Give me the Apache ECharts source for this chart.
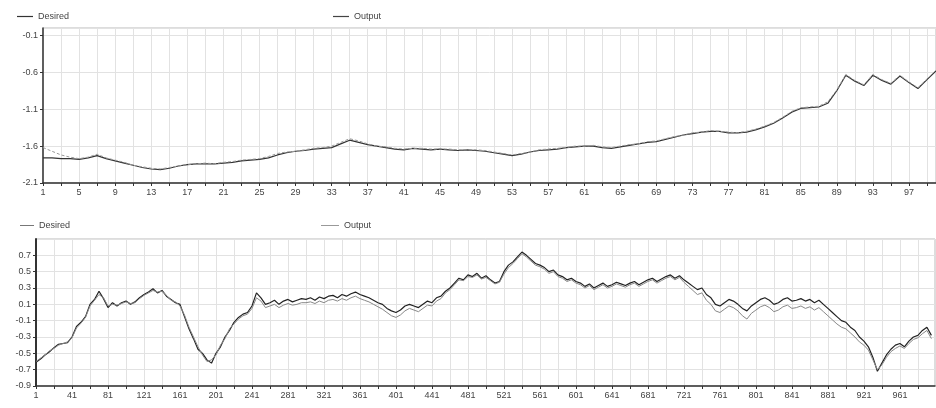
<!DOCTYPE html>
<html><head><meta charset="utf-8">
<script src="https://cdn.jsdelivr.net/npm/echarts@6/dist/echarts.min.js"></script>
<style>html,body{margin:0;padding:0;background:#fff}#c{width:936px;height:408px}</style>
</head><body><div id="c"></div>
<script>
// ---- Top chart data (100 steps) ----
const topDesired = [-1.76,-1.76,-1.77,-1.77,-1.78,-1.76,-1.73,-1.77,-1.80,-1.83,
-1.86,-1.89,-1.91,-1.92,-1.90,-1.87,-1.85,-1.84,-1.84,-1.84,
-1.83,-1.82,-1.80,-1.79,-1.78,-1.76,-1.72,-1.69,-1.67,-1.66,
-1.64,-1.63,-1.62,-1.57,-1.52,-1.55,-1.58,-1.60,-1.62,-1.64,
-1.65,-1.63,-1.64,-1.65,-1.64,-1.65,-1.66,-1.65,-1.66,-1.67,
-1.69,-1.71,-1.73,-1.71,-1.68,-1.66,-1.65,-1.64,-1.62,-1.61,
-1.60,-1.60,-1.62,-1.63,-1.61,-1.59,-1.57,-1.55,-1.54,-1.51,
-1.48,-1.45,-1.43,-1.41,-1.40,-1.40,-1.42,-1.42,-1.41,-1.38,
-1.34,-1.29,-1.22,-1.14,-1.09,-1.08,-1.07,-1.02,-0.85,-0.64,
-0.72,-0.78,-0.64,-0.71,-0.76,-0.65,-0.74,-0.82,-0.70,-0.58];
const topOutput = [-1.62,-1.67,-1.72,-1.75,-1.77,-1.75,-1.71,-1.76,-1.79,-1.82,
-1.86,-1.88,-1.90,-1.91,-1.89,-1.87,-1.85,-1.84,-1.83,-1.84,
-1.82,-1.81,-1.79,-1.78,-1.77,-1.74,-1.70,-1.68,-1.67,-1.65,
-1.63,-1.62,-1.60,-1.55,-1.50,-1.53,-1.57,-1.60,-1.61,-1.63,
-1.64,-1.63,-1.63,-1.64,-1.64,-1.64,-1.65,-1.65,-1.65,-1.66,
-1.68,-1.70,-1.72,-1.70,-1.68,-1.65,-1.64,-1.63,-1.62,-1.60,
-1.60,-1.59,-1.61,-1.62,-1.60,-1.58,-1.57,-1.54,-1.53,-1.50,
-1.47,-1.45,-1.42,-1.41,-1.39,-1.40,-1.41,-1.42,-1.40,-1.37,
-1.33,-1.28,-1.21,-1.13,-1.08,-1.07,-1.06,-1.00,-0.84,-0.63,
-0.71,-0.77,-0.63,-0.70,-0.75,-0.64,-0.73,-0.81,-0.69,-0.57];

// ---- Bottom chart data (1000 steps, sampled every 5th step) ----
const botStep = 5;
const botDesired = [
-0.61,-0.57,-0.52,-0.48,-0.43,-0.39,-0.38,-0.37,-0.30,-0.17,
-0.12,-0.05,0.10,0.16,0.26,0.17,0.06,0.12,0.08,0.12,
0.14,0.10,0.13,0.18,0.22,0.25,0.29,0.24,0.27,0.20,
0.16,0.12,0.10,-0.05,-0.20,-0.32,-0.45,-0.50,-0.58,-0.62,
-0.50,-0.42,-0.30,-0.22,-0.12,-0.06,-0.02,0.00,0.08,0.24,
0.18,0.10,0.12,0.15,0.10,0.14,0.16,0.13,0.15,0.17,
0.16,0.18,0.15,0.19,0.17,0.20,0.21,0.18,0.22,0.20,
0.23,0.25,0.22,0.20,0.18,0.15,0.12,0.10,0.05,0.02,
0.00,0.03,0.08,0.10,0.08,0.06,0.10,0.14,0.12,0.18,
0.20,0.26,0.30,0.36,0.42,0.40,0.46,0.44,0.48,0.42,
0.45,0.40,0.36,0.38,0.50,0.58,0.62,0.68,0.74,0.70,
0.65,0.60,0.58,0.55,0.50,0.52,0.46,0.44,0.40,0.42,
0.38,0.36,0.32,0.35,0.30,0.33,0.36,0.32,0.34,0.37,
0.35,0.33,0.36,0.38,0.34,0.37,0.40,0.42,0.38,0.41,
0.44,0.46,0.42,0.45,0.40,0.36,0.32,0.28,0.30,0.22,
0.18,0.10,0.08,0.12,0.16,0.14,0.10,0.05,0.02,0.08,
0.12,0.16,0.18,0.15,0.10,0.12,0.16,0.18,0.14,0.15,
0.17,0.14,0.16,0.12,0.15,0.10,0.05,0.00,-0.05,-0.10,
-0.12,-0.18,-0.22,-0.30,-0.35,-0.42,-0.55,-0.72,-0.62,-0.52,
-0.45,-0.40,-0.38,-0.42,-0.35,-0.30,-0.28,-0.22,-0.18,-0.28];
const botOutput = [
-0.60,-0.56,-0.52,-0.47,-0.44,-0.40,-0.38,-0.36,-0.31,-0.19,
-0.13,-0.06,0.08,0.15,0.22,0.18,0.08,0.10,0.09,0.11,
0.13,0.11,0.12,0.17,0.21,0.24,0.27,0.25,0.26,0.21,
0.15,0.13,0.08,-0.03,-0.18,-0.30,-0.42,-0.52,-0.60,-0.58,
-0.52,-0.40,-0.32,-0.20,-0.14,-0.08,-0.04,-0.02,0.05,0.18,
0.14,0.06,0.08,0.10,0.06,0.09,0.11,0.09,0.10,0.12,
0.12,0.13,0.11,0.14,0.12,0.15,0.16,0.14,0.17,0.15,
0.18,0.20,0.17,0.15,0.13,0.10,0.07,0.04,0.00,-0.04,
-0.06,-0.03,0.02,0.05,0.03,0.01,0.05,0.09,0.08,0.14,
0.17,0.24,0.28,0.34,0.40,0.39,0.44,0.43,0.46,0.41,
0.43,0.39,0.35,0.37,0.47,0.55,0.60,0.66,0.72,0.68,
0.63,0.58,0.56,0.53,0.48,0.50,0.44,0.42,0.38,0.40,
0.36,0.34,0.30,0.33,0.28,0.31,0.34,0.30,0.32,0.35,
0.33,0.31,0.34,0.36,0.32,0.35,0.38,0.40,0.36,0.39,
0.42,0.44,0.40,0.43,0.37,0.32,0.27,0.22,0.24,0.15,
0.10,0.02,0.00,0.04,0.08,0.06,0.02,-0.04,-0.08,-0.01,
0.03,0.07,0.09,0.06,0.01,0.03,0.07,0.09,0.05,0.06,
0.08,0.05,0.07,0.03,0.06,0.01,-0.04,-0.09,-0.14,-0.18,
-0.20,-0.25,-0.30,-0.36,-0.40,-0.46,-0.58,-0.70,-0.64,-0.55,
-0.48,-0.44,-0.41,-0.44,-0.38,-0.33,-0.31,-0.26,-0.22,-0.32];

// axis settings
const topCats = Array.from({length: 100}, (_, i) => String(i + 1));
const botCats = Array.from({length: 1000}, (_, i) => String(i + 1));
const topY = {min: -2.1, max: 0, interval: 0.5};
const botY = {min: -0.9, max: 0.9, interval: 0.2};

const botDesiredPts = botDesired.map((v, k) => [k * botStep, v]);
const botOutputPts = botOutput.map((v, k) => [k * botStep, v]);

const font = {fontFamily: 'Liberation Sans, Arial, sans-serif', fontSize: 9, color: '#444'};
const gridCol = '#e2e2e2';
const axisCol = '#333';
const fmt = v => (Math.round(v * 10) / 10).toFixed(1);

const chart = echarts.init(document.getElementById('c'), null, {renderer: 'canvas'});
chart.setOption({
  animation: false,
  backgroundColor: '#fff',
  legend: [
    {data: ['Desired'], left: 12, top: 7, itemWidth: 16, itemHeight: 1.2, icon: 'rect', itemGap: 2, textStyle: font, selectedMode: false},
    {data: ['Output'], left: 328, top: 7, itemWidth: 16, itemHeight: 1.2, icon: 'rect', itemGap: 2, textStyle: font, selectedMode: false},
    {data: ['Desired '], left: 15, top: 216, itemWidth: 14, itemHeight: 1, icon: 'rect', textStyle: font, selectedMode: false},
    {data: ['Output '], left: 316, top: 216, itemWidth: 18, itemHeight: 1, icon: 'rect', textStyle: font, selectedMode: false}
  ],
  grid: [
    {left: 43, top: 28, width: 897, height: 155, show: true, borderColor: '#bbb', borderWidth: 1},
    {left: 36, top: 239, width: 899, height: 147, show: true, borderColor: '#bbb', borderWidth: 1}
  ],
  xAxis: [
    {type: 'category', gridIndex: 0, data: topCats, boundaryGap: false,
     axisLine: {onZero: false, lineStyle: {color: axisCol, width: 1.5}},
     axisTick: {interval: 1, length: 3, lineStyle: {color: axisCol}},
     axisLabel: Object.assign({interval: 3, margin: 5}, font),
     splitLine: {show: true, interval: 1, lineStyle: {color: gridCol}}},
    {type: 'category', gridIndex: 1, data: botCats, boundaryGap: false,
     axisLine: {onZero: false, lineStyle: {color: axisCol, width: 1.5}},
     axisTick: {interval: 19, length: 3, lineStyle: {color: axisCol}},
     axisLabel: Object.assign({interval: 39, margin: 5}, font),
     splitLine: {show: true, interval: 19, lineStyle: {color: gridCol}}}
  ],
  yAxis: [
    Object.assign({type: 'value', gridIndex: 0,
     axisLine: {show: true, lineStyle: {color: axisCol, width: 1.5}},
     axisTick: {show: true, length: 3, lineStyle: {color: axisCol}},
     axisLabel: Object.assign({showMaxLabel: false, margin: 5, formatter: fmt}, font),
     splitLine: {lineStyle: {color: gridCol}}}, topY),
    Object.assign({type: 'value', gridIndex: 1,
     axisLine: {show: true, lineStyle: {color: axisCol, width: 2}},
     axisTick: {show: true, length: 3, lineStyle: {color: axisCol}},
     axisLabel: Object.assign({showMaxLabel: false, margin: 5, formatter: fmt}, font),
     splitLine: {lineStyle: {color: gridCol}}}, botY)
  ],
  series: [
    {name: 'Desired', type: 'line', xAxisIndex: 0, yAxisIndex: 0, data: topDesired, showSymbol: false, color: '#333', lineStyle: {width: 1.2, color: '#333'}},
    {name: 'Output', type: 'line', xAxisIndex: 0, yAxisIndex: 0, data: topOutput, showSymbol: false, color: '#444', lineStyle: {width: 1, color: '#999', type: [3, 2]}},
    {name: 'Desired ', type: 'line', xAxisIndex: 1, yAxisIndex: 1, data: botDesiredPts, showSymbol: false, color: '#777', lineStyle: {width: 1.2, color: '#222'}},
    {name: 'Output ', type: 'line', xAxisIndex: 1, yAxisIndex: 1, data: botOutputPts, showSymbol: false, color: '#999', lineStyle: {width: 1, color: '#888'}}
  ]
});
</script></body></html>
